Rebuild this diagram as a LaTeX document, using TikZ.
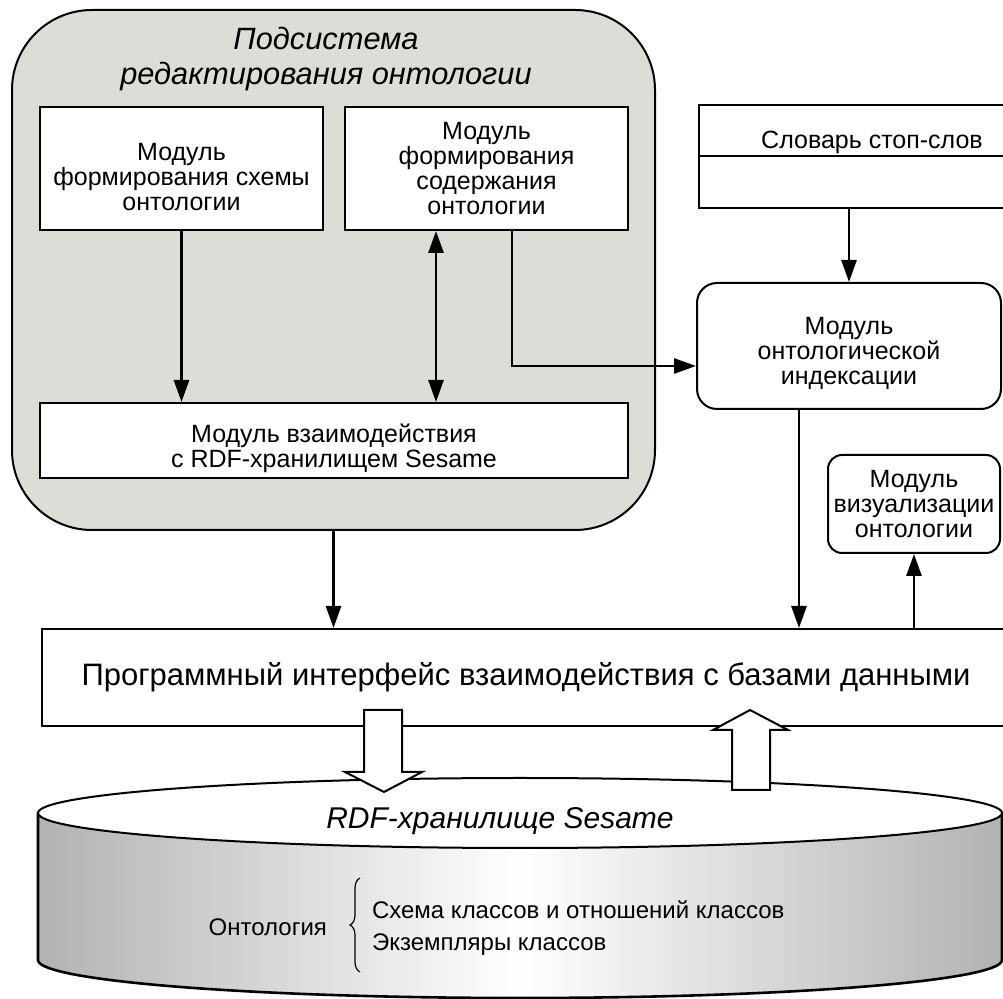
\documentclass[tikz,border=0pt]{standalone}
\usepackage{fontspec}
\setmainfont{Liberation Sans}
\usepackage{tikz}
\usetikzlibrary{arrows.meta,decorations.pathreplacing}

\definecolor{panelgray}{RGB}{221,221,216}
\definecolor{drumgray}{RGB}{178,178,178}
\newcommand{\padtop}[1]{\rule{0pt}{#1}}

\begin{document}
\begin{tikzpicture}[x=0.5pt,y=-0.5pt,
  box/.style={draw,line width=1pt,fill=white,align=center,inner sep=0pt,
    font=\fontsize{12.5}{12.5}\selectfont},
  rbox/.style={box,rounded corners=10pt},
  link/.style={line width=1.4pt,-{Triangle[length=11pt,width=7.5pt]}},
  both/.style={line width=1.4pt,{Triangle[length=11pt,width=7.5pt]}-{Triangle[length=11pt,width=7.5pt]}},
  fat/.style={draw,line width=1pt,fill=white}]
  \useasboundingbox (0,0) rectangle (1003,999);
  % editing subsystem
  \node[draw,line width=1pt,fill=panelgray,rounded corners=40pt,
    minimum width=321.5pt,minimum height=260pt] (sys) at (333.5,270) {};
  \node[align=center,font=\fontsize{15.4}{17.5}\selectfont\itshape] (title) at (326,59)
    {Подсистема\\редактирования онтологии};
  \node[box,minimum width=141.5pt,minimum height=61.5pt] (schema) at (181.5,168.5)
    {\padtop{17pt}Модуль\\формирования схемы\\онтологии};
  \node[box,minimum width=141.5pt,minimum height=61.5pt] (content) at (486.5,168.5)
    {Модуль\\формирования\\содержания\\онтологии};
  \node[box,minimum width=294pt,minimum height=37.5pt] (rdfmod) at (334,440.5)
    {\padtop{17pt}Модуль взаимодействия\\с RDF-хранилищем Sesame};
  % right column
  \node[box,minimum width=158pt,minimum height=51.5pt] (dict) at (857,156.5) {};
  \draw[line width=1pt] (dict.west) -- (dict.east);
  \node[font=\fontsize{12.5}{12.5}\selectfont] (dicttext) at (872,142) {Словарь стоп-слов};
  \node[rbox,minimum width=152pt,minimum height=63pt] (index) at (849,346)
    {\padtop{16pt}Модуль\\онтологической\\индексации};
  \node[rbox,rounded corners=7pt,minimum width=86pt,minimum height=49pt] (vis) at (914,504)
    {Модуль\\визуализации\\онтологии};
  \node[box,minimum width=484pt,minimum height=48.5pt,font=\fontsize{15.5}{18}\selectfont] (api)
    at (526,677.5) {Программный интерфейс взаимодействия с базами данными};
  % storage drum
  \shade[left color=drumgray,right color=drumgray,middle color=white]
    (38,813) -- (38,960) arc[start angle=180,end angle=360,x radius=241pt,y radius=19pt]
    -- (1002,813) arc[start angle=0,end angle=-180,x radius=241pt,y radius=17.5pt] -- cycle;
  \draw[line width=1.3pt] (38,813) -- (38,960)
    arc[start angle=180,end angle=360,x radius=241pt,y radius=19pt] -- (1002,813);
  \draw[line width=1pt,fill=white] (520,813) ellipse[x radius=241pt,y radius=17.5pt];
  \node[font=\fontsize{15}{17}\selectfont\itshape] (repo) at (500,821) {RDF-хранилище Sesame};
  \node[anchor=east,font=\fontsize{12}{13}\selectfont] (onto) at (334,927) {Онтология};
  \node[anchor=west,font=\fontsize{12}{13}\selectfont] (classes) at (365,910)
    {Схема классов и отношений классов};
  \node[anchor=west,font=\fontsize{12}{13}\selectfont] (items) at (365,945)
    {Экземпляры классов};
  \draw[decorate,decoration={brace,amplitude=5pt},line width=0.6pt] (360,972) -- (360,878);
  % connectors
  \draw[link] (schema.south) -- (schema.south |- rdfmod.north);
  \draw[both] ([xshift=46pt]content.south west) -- ([xshift=46pt]content.south west |- rdfmod.north);
  \draw[link] ([xshift=84pt]content.south west) |- ([yshift=-10pt]index.west);
  \draw[link] (index.north |- dict.south) -- (index.north);
  \draw[link] ([xshift=-25pt]index.south) -- ([xshift=-25pt]index.south |- api.north);
  \draw[link] (vis.south |- api.north) -- (vis.south);
  \draw[link] (sys.south) -- (sys.south |- api.north);
  % block arrows
  \draw[fat] (364,710) -- (402,710) -- (402,772) -- (422,772) -- (384,792)
    -- (345,772) -- (364,772) -- cycle;
  \draw[fat] (732,790) -- (770,790) -- (770,730) -- (788,730) -- (750,710)
    -- (713,730) -- (732,730) -- cycle;
\end{tikzpicture}
\end{document}
